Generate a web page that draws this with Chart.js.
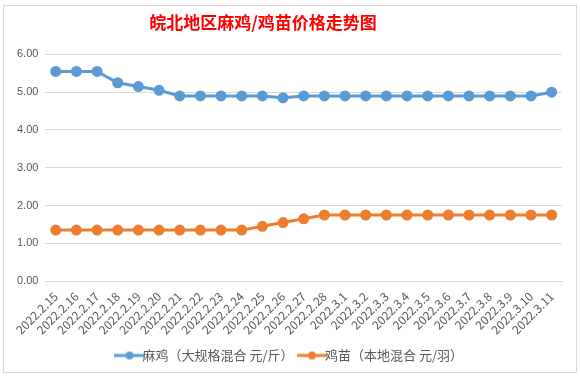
<!DOCTYPE html>
<html>
<head>
<meta charset="utf-8">
<script src="https://cdn.jsdelivr.net/npm/chart.js@4/dist/chart.umd.min.js"></script>
<style>
  html, body { margin: 0; padding: 0; background: #fff; }
  #wrap { position: absolute; left: 3px; top: 5px; width: 572px; height: 366px; border: 1px solid #d9d9d9; background: #fff; }
</style>
</head>
<body>
<div id="wrap"><canvas id="priceChart" width="572" height="366"></canvas></div>
<script>
// ===== Daten =====
const labels = [
  '2022.2.15', '2022.2.16', '2022.2.17', '2022.2.18', '2022.2.19', '2022.2.20', '2022.2.21',
  '2022.2.22', '2022.2.23', '2022.2.24', '2022.2.25', '2022.2.26', '2022.2.27', '2022.2.28',
  '2022.3.1', '2022.3.2', '2022.3.3', '2022.3.4', '2022.3.5', '2022.3.6', '2022.3.7',
  '2022.3.8', '2022.3.9', '2022.3.10', '2022.3.11'
];
const majiPrices = [
  5.55, 5.55, 5.55, 5.25, 5.15, 5.05, 4.90, 4.90, 4.90, 4.90, 4.90, 4.85, 4.90, 4.90,
  4.90, 4.90, 4.90, 4.90, 4.90, 4.90, 4.90, 4.90, 4.90, 4.90, 5.00
];
const jimiaoPrices = [
  1.35, 1.35, 1.35, 1.35, 1.35, 1.35, 1.35, 1.35, 1.35, 1.35, 1.45, 1.55, 1.65, 1.75,
  1.75, 1.75, 1.75, 1.75, 1.75, 1.75, 1.75, 1.75, 1.75, 1.75, 1.75
];
const seriesNames = ['麻鸡（大规格混合 元/斤）', '鸡苗（本地混合 元/羽）'];
const seriesColors = ['#5B9BD5', '#ED7D31'];

const FONT = "'Noto Sans CJK SC', 'Liberation Sans', sans-serif";
const TEXT = '#595959';

// Legend-Symbol: Linie mit Punkt
function legendIcon(color) {
  const c = document.createElement('canvas');
  c.width = 30; c.height = 10;
  const ctx = c.getContext('2d');
  ctx.strokeStyle = color;
  ctx.lineWidth = 3;
  ctx.beginPath(); ctx.moveTo(0, 5); ctx.lineTo(30, 5); ctx.stroke();
  ctx.fillStyle = color;
  ctx.beginPath(); ctx.arc(15, 5, 4, 0, Math.PI * 2); ctx.fill();
  return c;
}

// Titel sitzt im Original etwas links der Mitte
const titleShift = {
  id: 'titleShift',
  afterLayout(chart) {
    if (chart.titleBlock) {
      chart.titleBlock.left -= 30;
      chart.titleBlock.right -= 30;
    }
  }
};

const datasets = [majiPrices, jimiaoPrices].map((d, i) => ({
  label: seriesNames[i],
  data: d,
  borderColor: seriesColors[i],
  backgroundColor: seriesColors[i],
  borderWidth: 3,
  pointRadius: 4,
  pointHoverRadius: 4,
  tension: 0,
  fill: false
}));

new Chart(document.getElementById('priceChart'), {
  type: 'line',
  data: { labels, datasets },
  plugins: [titleShift],
  options: {
    responsive: false,
    animation: false,
    layout: { padding: { left: 6, right: 0, top: 2, bottom: 0 } },
    plugins: {
      title: {
        display: true,
        text: '皖北地区麻鸡/鸡苗价格走势图',
        color: '#FF0000',
        font: { family: FONT, size: 17, weight: 'bold' },
        padding: { top: 4, bottom: 22 }
      },
      legend: {
        position: 'bottom',
        labels: {
          color: TEXT,
          font: { family: FONT, size: 13 },
          usePointStyle: true,
          boxWidth: 30,
          padding: 12,
          generateLabels(chart) {
            return chart.data.datasets.map((ds, i) => ({
              text: ds.label,
              pointStyle: legendIcon(seriesColors[i]),
              fontColor: TEXT,
              datasetIndex: i,
              hidden: false,
              lineWidth: 0
            }));
          }
        }
      },
      tooltip: { enabled: false }
    },
    scales: {
      x: {
        offset: true,
        grid: { display: false },
        border: { color: '#d9d9d9' },
        afterFit(scale) { scale.paddingRight = 14; },
        ticks: {
          color: TEXT,
          font: { family: FONT, size: 12 },
          maxRotation: 45,
          minRotation: 45,
          autoSkip: false,
          padding: 0
        }
      },
      y: {
        min: 0,
        max: 6,
        grid: { color: '#d9d9d9', drawTicks: false },
        border: { display: false },
        ticks: {
          stepSize: 1,
          color: TEXT,
          font: { family: "'Liberation Sans', sans-serif", size: 11 },
          padding: 7,
          callback: v => v.toFixed(2)
        }
      }
    }
  }
});
</script>
</body>
</html>
